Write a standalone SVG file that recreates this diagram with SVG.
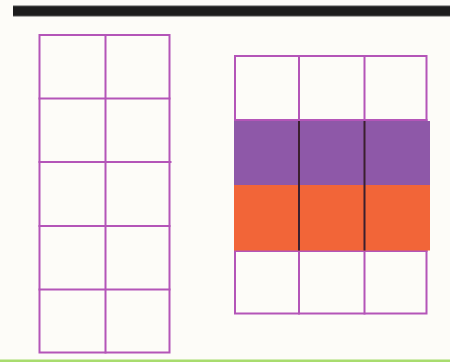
<svg xmlns="http://www.w3.org/2000/svg" width="450" height="362" viewBox="0 0 450 362">
<style>
.g{stroke:#b455b8;stroke-width:2;fill:none;stroke-linecap:square}
.d{stroke:#3a1f2e;stroke-width:2}
</style>
<rect width="450" height="362" fill="#fdfcf8"/>
<rect x="13" y="5.5" width="437" height="11" fill="#555"/>
<rect x="13" y="6.5" width="437" height="9" fill="#1c1c1c"/>
<rect x="0" y="359.5" width="450" height="2.5" fill="#a8dc6e"/>
<g id="left-grid">
<rect class="g" x="39.5" y="35" width="130" height="317.5"/>
<line class="g" x1="105.5" y1="35" x2="105.5" y2="352.5"/>
<line class="g" x1="39.5" y1="98.5" x2="169.5" y2="98.5"/>
<line class="g" x1="39.5" y1="162" x2="170.5" y2="162"/>
<line class="g" x1="39.5" y1="226" x2="169.5" y2="226"/>
<line class="g" x1="39.5" y1="289.5" x2="169.5" y2="289.5"/>
</g>
<g id="right-grid">
<rect class="g" x="235" y="56" width="191.5" height="257.5"/>
<line class="g" x1="299" y1="56" x2="299" y2="120"/>
<line class="g" x1="364.5" y1="56" x2="364.5" y2="120"/>
<line class="g" x1="299" y1="251" x2="299" y2="313.5"/>
<line class="g" x1="364.5" y1="251" x2="364.5" y2="313.5"/>
<line class="g" x1="235" y1="120" x2="426.5" y2="120"/>
<line class="g" x1="235" y1="251" x2="426.5" y2="251"/>
<rect x="234" y="121" width="196" height="64" fill="#8e58a8"/>
<rect x="234" y="185" width="196" height="65.5" fill="#f26538"/>
<line class="d" x1="299" y1="121" x2="299" y2="250.5"/>
<line class="d" x1="364.5" y1="121" x2="364.5" y2="250.5"/>
</g>
</svg>
